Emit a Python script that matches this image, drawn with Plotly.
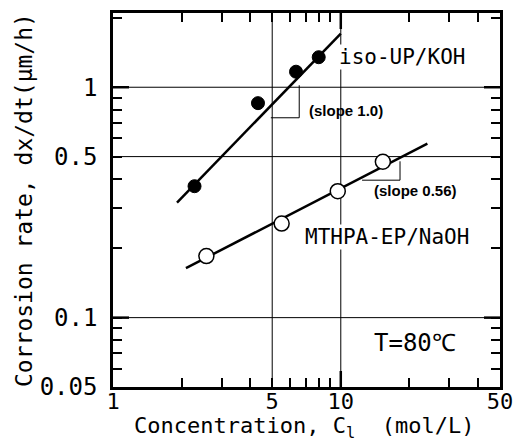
import plotly.graph_objects as go

# Data
koh_x = [2.28, 4.33, 6.36, 8.0]
koh_y = [0.372, 0.853, 1.168, 1.35]
koh_fit_x = [1.91, 10.0]
koh_fit_y = [0.316, 1.71]

naoh_x = [2.57, 5.50, 9.7, 15.3]
naoh_y = [0.185, 0.256, 0.354, 0.475]
naoh_fit_x = [2.09, 24.0]
naoh_fit_y = [0.164, 0.569]

slope1_x = [4.93, 6.57, 6.57]
slope1_y = [0.737, 0.737, 1.02]
slope2_x = [12.4, 18.2, 18.2]
slope2_y = [0.395, 0.395, 0.477]

x_tickvals = [1, 2, 3, 4, 5, 6, 7, 8, 9, 10, 20, 30, 40, 50]
x_ticktext = ["1", "", "", "", "5", "", "", "", "", "10", "", "", "", "50"]
y_tickvals = [0.05, 0.06, 0.07, 0.08, 0.09, 0.1, 0.2, 0.3, 0.4, 0.5,
              0.6, 0.7, 0.8, 0.9, 1, 2]
y_ticktext = ["0.05", "", "", "", "", "0.1", "", "", "", "0.5",
              "", "", "", "", "1", ""]
x_grid = [5, 10]
y_grid = [0.1, 0.5, 1]
x_decades = [10]
y_decades = [0.1, 1]

FONT = "DejaVu Sans Mono"
FIG_W, FIG_H = 515, 441
M_L, M_R, M_T, M_B = 113, 15, 13, 54
PLOT_W = FIG_W - M_L - M_R
PLOT_H = FIG_H - M_T - M_B
LONG = 16

fig = go.Figure()

fig.add_trace(go.Scatter(x=koh_fit_x, y=koh_fit_y, mode="lines",
                         line=dict(color="black", width=2.5), showlegend=False))
fig.add_trace(go.Scatter(x=naoh_fit_x, y=naoh_fit_y, mode="lines",
                         line=dict(color="black", width=2.5), showlegend=False))
fig.add_trace(go.Scatter(x=slope1_x, y=slope1_y, mode="lines",
                         line=dict(color="black", width=1), showlegend=False))
fig.add_trace(go.Scatter(x=slope2_x, y=slope2_y, mode="lines",
                         line=dict(color="black", width=1), showlegend=False))
fig.add_trace(go.Scatter(x=koh_x, y=koh_y, mode="markers",
                         marker=dict(color="black", size=13,
                                     line=dict(color="black", width=1)),
                         showlegend=False))
fig.add_trace(go.Scatter(x=naoh_x, y=naoh_y, mode="markers",
                         marker=dict(color="white", size=15,
                                     line=dict(color="black", width=1.5)),
                         showlegend=False))

shapes = []
for gx in x_grid:
    shapes.append(dict(type="line", xref="x", yref="paper", x0=gx, x1=gx,
                       y0=0, y1=1, line=dict(color="black", width=1),
                       layer="below"))
for gy in y_grid:
    shapes.append(dict(type="line", xref="paper", yref="y", x0=0, x1=1,
                       y0=gy, y1=gy, line=dict(color="black", width=1),
                       layer="below"))
# longer decade ticks (inside, both sides)
for dx in x_decades:
    for y0, y1 in [(0, LONG / PLOT_H), (1 - LONG / PLOT_H, 1)]:
        shapes.append(dict(type="line", xref="x", yref="paper", x0=dx, x1=dx,
                           y0=y0, y1=y1, line=dict(color="black", width=2.5)))
for dy in y_decades:
    for x0, x1 in [(0, LONG / PLOT_W), (1 - LONG / PLOT_W, 1)]:
        shapes.append(dict(type="line", xref="paper", yref="y", x0=x0, x1=x1,
                           y0=dy, y1=dy, line=dict(color="black", width=2.5)))

annotations = [
    dict(x=0.988, y=0.131, xref="x", yref="y", text="iso-UP/KOH",
         font=dict(family=FONT, size=21, color="black"), showarrow=False,
         xanchor="left", yanchor="middle", bgcolor="white", borderpad=0),
    dict(x=0.856, y=-0.099, xref="x", yref="y", text="<b>(slope 1.0)</b>",
         font=dict(family="Liberation Sans", size=15, color="black"),
         showarrow=False, xanchor="left", yanchor="middle", borderpad=0),
    dict(x=1.141, y=-0.446, xref="x", yref="y", text="<b>(slope 0.56)</b>",
         font=dict(family="Liberation Sans", size=15, color="black"),
         showarrow=False, xanchor="left", yanchor="middle", borderpad=0),
    dict(x=0.838, y=-0.650, xref="x", yref="y", text="MTHPA-EP/NaOH",
         font=dict(family=FONT, size=21, color="black"), showarrow=False,
         xanchor="left", yanchor="middle", bgcolor="white", borderpad=0),
    dict(x=1.141, y=-1.110, xref="x", yref="y", text="T=80℃",
         font=dict(family=FONT, size=24, color="black"), showarrow=False,
         xanchor="left", yanchor="middle", bgcolor="white", borderpad=0),
    # axis titles
    dict(x=0, y=0.5, xref="paper", yref="paper", xshift=-89,
         text="Corrosion rate, dx/dt(μm/h)", textangle=-90,
         font=dict(family=FONT, size=23, color="black"), showarrow=False,
         xanchor="center", yanchor="middle"),
    dict(x=0.5, y=0, xref="paper", yref="paper", yshift=-40, xshift=-3,
         text="Concentration, C<sub>l</sub>  (mol/L)",
         font=dict(family=FONT, size=22, color="black"), showarrow=False,
         xanchor="center", yanchor="middle"),
]

axis_common = dict(
    type="log", showgrid=False, zeroline=False, automargin=False,
    showline=True, linecolor="black", linewidth=2.5, mirror="ticks",
    ticks="inside", ticklen=9, tickwidth=2, tickcolor="black",
    tickmode="array",
    tickfont=dict(family=FONT, size=22, color="black"),
)

fig.update_layout(
    width=FIG_W, height=FIG_H,
    margin=dict(l=M_L, r=M_R, t=M_T, b=M_B),
    paper_bgcolor="white", plot_bgcolor="white",
    shapes=shapes, annotations=annotations,
    xaxis=dict(axis_common, range=[0, 1.69897], tickvals=x_tickvals,
               ticktext=x_ticktext, ticklabelstandoff=-7),
    yaxis=dict(axis_common, range=[-1.30103, 0.3222], tickvals=y_tickvals,
               ticktext=y_ticktext, ticklabelstandoff=8,
               tickfont=dict(family=FONT, size=24, color="black")),
)

# remove the default page margin so the figure fills the window exactly
fig.write_html(
    "out.html",
    config={"displayModeBar": False},
    post_script="document.body.style.margin='0';"
                "document.body.style.overflow='hidden';",
)
